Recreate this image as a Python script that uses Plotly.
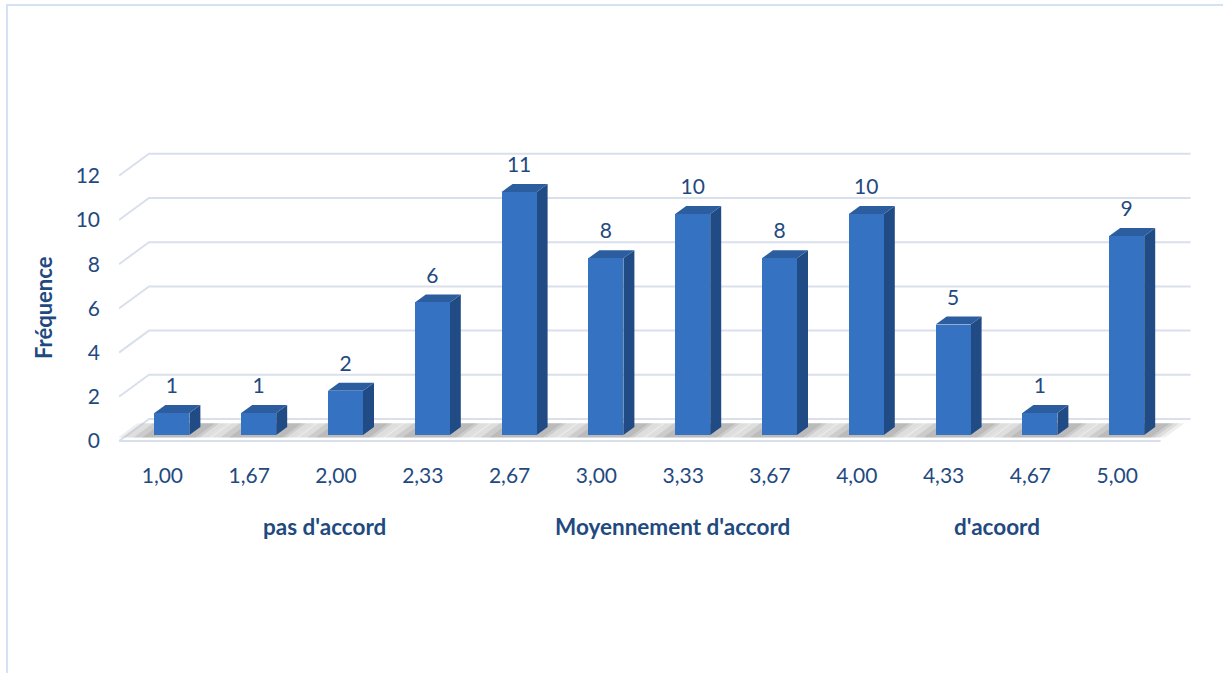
import plotly.graph_objects as go

# ---- data ----
categories = ["1,00", "1,67", "2,00", "2,33", "2,67", "3,00",
              "3,33", "3,67", "4,00", "4,33", "4,67", "5,00"]
frequencies = [1, 1, 2, 6, 11, 8, 10, 8, 10, 5, 1, 9]
y_ticks = [0, 2, 4, 6, 8, 10, 12]
group_labels = ["pas d'accord", "Moyennement d'accord", "d'acoord"]

# ---- geometry (pixels) ----
W, H = 1223, 673
L, R, T = 119, 19, 66
PLOT_BOTTOM = 446
X_RANGE = [-0.5, 12.0]
PX_X = (W - L - R) / (X_RANGE[1] - X_RANGE[0])   # pixels per category
PX_Y = 22.1                                        # pixels per unit of frequency
Y0_PX = 441                                        # pixel row of value 0 on the front plane
Y_RANGE = [-(PLOT_BOTTOM - Y0_PX) / PX_Y, (Y0_PX - T) / PX_Y]

# 3D look: offsets in data units
BACK_DX, BACK_DY = 30 / PX_X, 22 / PX_Y     # back wall relative to front plane
BAR_DX, BAR_DY = 9.5 / PX_X, 6 / PX_Y       # bar front face relative to front plane
DEPTH_DX, DEPTH_DY = 11 / PX_X, 8 / PX_Y    # bar depth
BAR_W = 35 / PX_X
LABEL_GAP = 25 / PX_Y

FRONT = "#3573C2"
TOP = "#2C5E9F"
SIDE = "#214B85"
GRID = "#D9E0EC"
TEXT = "#1F4A7F"
FONT = "Lato"

xs = list(range(len(categories)))
bar_x = [i + BAR_DX for i in xs]


def poly(pts):
    return "M " + " L ".join(f"{x},{y}" for x, y in pts) + " Z"


shapes = []

# floor
x_left, x_right = X_RANGE[0], len(categories) - 0.5
shapes.append(dict(type="path", xref="x", yref="y", layer="below",
                   path=poly([(x_left, 0), (x_right, 0),
                              (x_right + BACK_DX, BACK_DY), (x_left + BACK_DX, BACK_DY)]),
                   fillcolor="#FFFFFF", line=dict(width=0)))
shapes.append(dict(type="line", xref="x", yref="y", layer="below",
                   x0=x_left, y0=0, x1=x_right, y1=0,
                   line=dict(color=GRID, width=2)))

# gridlines: slanted on the side wall, flat along the back wall
for v in y_ticks:
    shapes.append(dict(type="path", xref="x", yref="y", layer="below",
                       path=f"M {x_left},{v} L {x_left + BACK_DX},{v + BACK_DY} "
                            f"L {x_right + BACK_DX},{v + BACK_DY}",
                       line=dict(color=GRID, width=2)))

# soft shadows on the floor, layered to fade away from each bar
y_lo, y_hi = 0.16, 0.80
sk = (y_hi - y_lo) * (DEPTH_DX / DEPTH_DY)
for bx in bar_x:
    xl = bx - BAR_W / 2
    xr = bx + BAR_W / 2
    for left_ext, right_ext, alpha in [(0.42, 0.24, 0.10), (0.34, 0.18, 0.12),
                                       (0.24, 0.12, 0.14), (0.14, 0.07, 0.16)]:
        shapes.append(dict(type="path", xref="x", yref="y", layer="below",
                           path=poly([(xl - left_ext, y_lo), (xr + right_ext, y_lo),
                                      (xr + right_ext + sk, y_hi), (xl - left_ext + sk, y_hi)]),
                           fillcolor=f"rgba(100,100,100,{alpha})", line=dict(width=0)))

# top and side faces of every bar
for bx, v in zip(bar_x, frequencies):
    xl = bx - BAR_W / 2
    xr = bx + BAR_W / 2
    b = BAR_DY
    t = BAR_DY + v
    shapes.append(dict(type="path", xref="x", yref="y", layer="below",
                       path=poly([(xr, b), (xr, t), (xr + DEPTH_DX, t + DEPTH_DY),
                                  (xr + DEPTH_DX, b + DEPTH_DY)]),
                       fillcolor=SIDE, line=dict(width=0)))
    shapes.append(dict(type="path", xref="x", yref="y", layer="below",
                       path=poly([(xl, t), (xr, t), (xr + DEPTH_DX, t + DEPTH_DY),
                                  (xl + DEPTH_DX, t + DEPTH_DY)]),
                       fillcolor=TOP, line=dict(width=0)))


# pixel -> paper helpers for free text and the outer frame
def px_x(p):
    return (p - L) / (W - L - R)


def px_y(p):
    return (PLOT_BOTTOM - p) / (PLOT_BOTTOM - T)


# outer frame (top and left edges visible)
shapes.append(dict(type="path", xref="paper", yref="paper", layer="above",
                   path=f"M {px_x(1240)},{px_y(5)} L {px_x(7)},{px_y(5)} L {px_x(7)},{px_y(690)}",
                   line=dict(color="#D4E2F4", width=2)))

fig = go.Figure()
fig.add_trace(go.Bar(x=bar_x, y=frequencies, base=BAR_DY, width=BAR_W,
                     marker=dict(color=FRONT, line=dict(width=0)),
                     hoverinfo="skip"))
fig.add_trace(go.Scatter(x=bar_x, y=[v + BAR_DY + LABEL_GAP for v in frequencies],
                         mode="text", text=[str(v) for v in frequencies],
                         textposition="middle center",
                         textfont=dict(family=FONT, size=21, color=TEXT),
                         hoverinfo="skip"))

annotations = [
    dict(text="<b>Fréquence</b>", x=px_x(43), y=px_y(308), xref="paper", yref="paper",
         textangle=-90, showarrow=False, xanchor="center", yanchor="middle",
         font=dict(family=FONT, size=22, color=TEXT)),
]
for txt, cx in zip(group_labels, [324, 672, 997]):
    annotations.append(dict(text=f"<b>{txt}</b>", x=px_x(cx), y=px_y(526),
                            xref="paper", yref="paper", showarrow=False,
                            xanchor="center", yanchor="middle",
                            font=dict(family=FONT, size=22.5, color=TEXT)))

fig.update_layout(
    width=W, height=H, autosize=False,
    margin=dict(l=L, r=R, t=T, b=H - PLOT_BOTTOM, pad=0),
    paper_bgcolor="white", plot_bgcolor="white",
    showlegend=False, bargap=0,
    shapes=shapes, annotations=annotations,
    xaxis=dict(range=X_RANGE, tickvals=xs, ticktext=categories, showgrid=False,
               zeroline=False, showline=False, ticks="",
               tickfont=dict(family=FONT, size=21, color=TEXT),
               ticklabelstandoff=15, fixedrange=True),
    yaxis=dict(range=Y_RANGE, tickvals=y_ticks, showgrid=False, zeroline=False,
               showline=False, ticks="",
               tickfont=dict(family=FONT, size=21, color=TEXT),
               ticklabelstandoff=18, fixedrange=True),
)

fig.write_html("out.html", include_plotlyjs=True, config={"displayModeBar": False})
